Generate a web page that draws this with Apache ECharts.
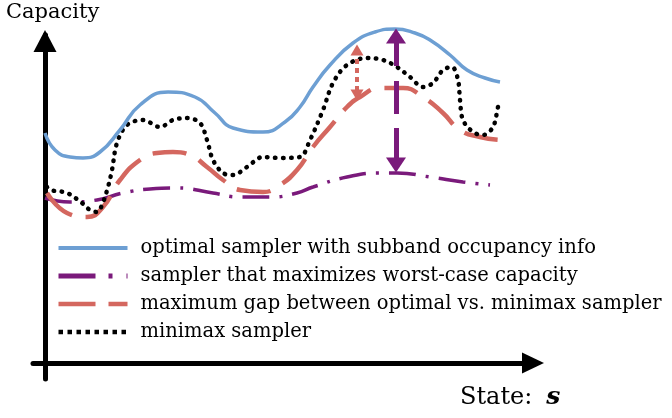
<!DOCTYPE html>
<html>
<head>
<meta charset="utf-8">
<script src="https://cdn.jsdelivr.net/npm/echarts@6/dist/echarts.min.js"></script>
<style>html,body{margin:0;padding:0;background:#fff;}#c{width:672px;height:418px;}</style>
</head>
<body>
<div id="c"></div>
<script>
// Series names (legend order)
const seriesNames = [
  'optimal sampler with subband occupancy info',
  'sampler that maximizes worst-case capacity',
  'maximum gap between optimal vs. minimax sampler',
  'minimax sampler'
];
// Axis titles
const yTitle = 'Capacity';
const xTitle = 'State:';
const xSymbol = 's';

// [state, capacity] points (arbitrary units)
const optimalCurve = [[0,230],[10,213],[25,206],[38,205],[55,211],[75,233],[95,258],[123,271],[150,266],[170,250],[188,235],[218,231],[240,241],[255,256],[268,276],[285,298],[308,320],[330,331],[350,334],[370,330],[385,323],[405,308],[422,293],[440,285],[455,281]];
const worstCaseCurve = [[0,165],[25,161],[52,163],[78,170],[105,174],[132,175],[168,170],[195,166],[225,166],[252,170],[268,176],[302,186],[335,190],[352,190],[385,186],[418,181],[445,178]];
const gapCurve = [[2,170],[22,150],[42,146],[58,156],[75,183],[95,203],[112,210],[128,211],[145,208],[162,196],[178,183],[195,173],[218,171],[235,178],[252,193],[268,216],[285,236],[302,256],[315,266],[335,275],[358,275],[378,266],[398,250],[415,233],[435,226],[455,223]];
const minimaxCurve = [[2,176],[5,173],[22,170],[37,160],[45,153],[52,151],[57,158],[63,176],[67,193],[72,220],[82,238],[98,243],[115,236],[128,243],[142,245],[155,240],[162,223],[168,203],[178,190],[188,188],[202,196],[218,206],[235,205],[255,206],[265,223],[278,253],[288,280],[302,298],[322,305],[338,303],[352,296],[365,286],[378,276],[388,280],[398,293],[407,296],[413,283],[415,263],[418,243],[428,231],[438,228],[448,236],[453,256],[455,263]];

// Double arrows: [state, capacity at top, capacity at bottom]
const worstGapArrow = [351, 327, 198];
const optimalGapArrow = [312, 313, 268];

const colors = ['#6d9fd3', '#7a1a7b', '#d4675f', '#000000'];
const serif = '"DejaVu Serif", serif';

const chart = echarts.init(document.getElementById('c'), null, {renderer: 'canvas'});

const axisCommon = {
  type: 'value',
  axisTick: {show: false},
  axisLabel: {show: false},
  splitLine: {show: false}
};

const option = {
  animation: false,
  backgroundColor: '#ffffff',
  grid: {left: 33, right: 139, top: 35, bottom: 39},
  xAxis: Object.assign({}, axisCommon, {
    min: -12, max: 488,
    axisLine: {show: true, onZero: true, symbol: ['none', 'triangle'], symbolSize: [21, 22],
      lineStyle: {color: '#000', width: 5}}
  }),
  yAxis: Object.assign({}, axisCommon, {
    min: -16, max: 328,
    axisLine: {show: true, onZero: true, symbol: ['none', 'triangle'], symbolSize: [23, 22], symbolOffset: [0, -6],
      lineStyle: {color: '#000', width: 5}}
  }),
  legend: {
    orient: 'vertical',
    left: 56, top: 238, padding: 0,
    itemWidth: 69, itemHeight: 14, itemGap: 8,
    selectedMode: false,
    itemStyle: {opacity: 0},
    textStyle: {fontFamily: serif, fontSize: 19.5, color: '#000', lineHeight: 20, padding: [0, 0, 0, 8]},
    data: [
      {name: seriesNames[0], lineStyle: {width: 4, type: 'solid'}},
      {name: seriesNames[1], lineStyle: {width: 5, type: [37, 13, 4, 14]}},
      {name: seriesNames[2], lineStyle: {width: 4.5, type: [37, 13]}},
      {name: seriesNames[3], lineStyle: {width: 4.5, type: [4.5, 4.5], cap: 'butt'}}
    ]
  },
  graphic: [
    {type: 'text', left: 6, top: 2, style: {text: yTitle, fontFamily: serif, fontSize: 21, fill: '#000'}},
    {type: 'text', left: 460, top: 385, style: {
      text: '{a|' + xTitle + '}{b|' + xSymbol + '}',
      rich: {
        a: {fontFamily: serif, fontSize: 24, color: '#000'},
        b: {fontFamily: serif, fontSize: 25, fontWeight: 'bold', fontStyle: 'italic', color: '#000', padding: [0, 0, 0, 14]}
      }
    }}
  ],
  series: [
    {
      name: seriesNames[0], type: 'line', data: optimalCurve, smooth: 0.5, symbol: 'none', clip: false, z: 3,
      lineStyle: {color: colors[0], width: 3.5}, itemStyle: {color: colors[0]}
    },
    {
      name: seriesNames[1], type: 'line', data: worstCaseCurve, smooth: 0.5, symbol: 'none', clip: false, z: 2,
      lineStyle: {color: colors[1], width: 3.5, type: [27, 10, 3, 10]}, itemStyle: {color: colors[1]},
      markLine: {
        silent: true, symbol: ['triangle', 'triangle'], symbolSize: [20, 15],
        label: {show: false},
        lineStyle: {color: colors[1], width: 5, type: [30, 15, 33, 14, 100], opacity: 1},
        data: [[{coord: [worstGapArrow[0], worstGapArrow[1]]}, {coord: [worstGapArrow[0], worstGapArrow[2]]}]]
      }
    },
    {
      name: seriesNames[2], type: 'line', data: gapCurve, smooth: 0.5, symbol: 'none', clip: false, z: 2,
      lineStyle: {color: colors[2], width: 4.5, type: [34, 14]}, itemStyle: {color: colors[2]},
      markLine: {
        silent: true, symbol: ['triangle', 'triangle'], symbolSize: [13, 11],
        label: {show: false},
        lineStyle: {color: colors[2], width: 4, type: [5, 4], opacity: 1},
        data: [[{coord: [optimalGapArrow[0], optimalGapArrow[1]]}, {coord: [optimalGapArrow[0], optimalGapArrow[2]]}]]
      }
    },
    {
      name: seriesNames[3], type: 'line', data: minimaxCurve, smooth: 0.35, symbol: 'none', clip: false, z: 2,
      lineStyle: {color: colors[3], width: 4.5, type: [0.5, 7.5], cap: 'round'}, itemStyle: {color: colors[3]}
    }
  ]
};
chart.setOption(option);
</script>
</body>
</html>
